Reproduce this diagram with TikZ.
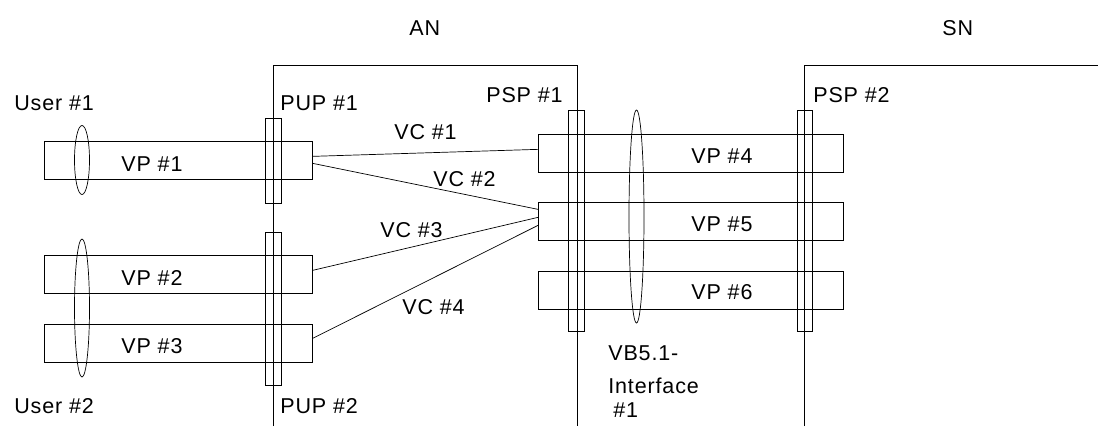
\documentclass[tikz,border=0pt]{standalone}
\usepackage{fontspec}
\setmainfont{Liberation Sans}[LetterSpace=4]
\usetikzlibrary{shapes.geometric}
\begin{document}
\begin{tikzpicture}[x=1pt,y=-1pt,line width=0.7pt,
  lbl/.style={anchor=base west,inner sep=0pt,font=\fontsize{21.5}{25}\selectfont},
  vpbox/.style={draw,anchor=north west,inner sep=0pt,minimum height=38pt},
  bar/.style={draw,anchor=north west,inner sep=0pt,minimum width=16pt},
  ring/.style={draw,ellipse,inner sep=0pt,minimum width=15pt},
  vc/.style={draw}]
\useasboundingbox (0,0) rectangle (1098,426);
% AN and SN domains
\coordinate (anbl) at (273,426);
\coordinate (antl) at (273,65);
\coordinate (antr) at (577,65);
\coordinate (anbr) at (577,426);
\coordinate (snbl) at (804,426);
\coordinate (sntl) at (804,65);
\coordinate (sntr) at (1098,65);
\draw (anbl) -- (antl) -- (antr) -- (anbr);
\draw (snbl) -- (sntl) -- (sntr);
% VP boxes
\node[vpbox,minimum width=268pt] (vp1) at (44,141) {};
\node[vpbox,minimum width=268pt] (vp2) at (44,255) {};
\node[vpbox,minimum width=268pt] (vp3) at (44,323.5) {};
\node[vpbox,minimum width=305pt] (vp4) at (538,134) {};
\node[vpbox,minimum width=305pt] (vp5) at (538,202) {};
\node[vpbox,minimum width=305pt] (vp6) at (538,271) {};
% bars
\node[bar,minimum height=85pt] (pup1) at (265,118) {};
\node[bar,minimum height=153pt] (pup2) at (265,232) {};
\node[bar,minimum height=221pt] (psp1) at (568,110) {};
\node[bar,minimum height=221pt,minimum width=15pt] (psp2) at (797,110) {};
% ellipses
\node[ring,minimum height=69pt] (u1) at (82,160) {};
\node[ring,minimum height=138pt] (u2) at (82,308) {};
\node[ring,minimum height=213pt] (vb) at (636.5,216.5) {};
% VC connectors
\draw[vc] ([yshift=4pt]vp1.east) -- ([yshift=4pt]vp4.west);
\draw[vc] ([yshift=-3pt]vp1.east) -- ([yshift=12pt]vp5.west);
\draw[vc] ([yshift=4pt]vp2.east) -- ([yshift=4pt]vp5.west);
\draw[vc] ([yshift=4.5pt]vp3.east) -- ([yshift=-4pt]vp5.west);
% labels
\node[lbl] (tan) at (409,35) {AN};
\node[lbl] (tsn) at (942,35) {SN};
\node[lbl] (tu1) at (14,110) {User \#1};
\node[lbl] (tu2) at (14,413) {User \#2};
\node[lbl] (tpup1) at (280,110) {PUP \#1};
\node[lbl] (tpup2) at (280,413) {PUP \#2};
\node[lbl] (tpsp1) at (486,102) {PSP \#1};
\node[lbl] (tpsp2) at (813,102) {PSP \#2};
\node[lbl] (tvc1) at (394,139) {VC \#1};
\node[lbl] (tvc2) at (433,186) {VC \#2};
\node[lbl] (tvc3) at (380,237) {VC \#3};
\node[lbl] (tvc4) at (402,314) {VC \#4};
\node[lbl] (tvp1) at (121,171) {VP \#1};
\node[lbl] (tvp2) at (121,285) {VP \#2};
\node[lbl] (tvp3) at (121,353) {VP \#3};
\node[lbl] (tvp4) at (691,163) {VP \#4};
\node[lbl] (tvp5) at (691,231) {VP \#5};
\node[lbl] (tvp6) at (691,299) {VP \#6};
\node[lbl] (tvb1) at (608,360) {VB5.1-};
\node[lbl] (tvb2) at (608,393) {Interface};
\node[lbl] (tvb3) at (613,417) {\#1};
\end{tikzpicture}
\end{document}
